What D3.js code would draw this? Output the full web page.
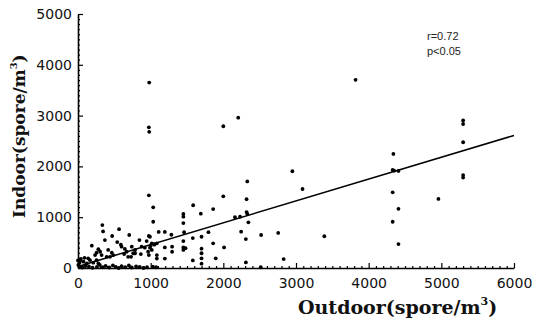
<!DOCTYPE html>
<html lang="en">
<head>
<meta charset="UTF-8">
<title>Indoor vs Outdoor</title>
<script src="https://cdn.jsdelivr.net/npm/d3@7/dist/d3.min.js"></script>
<style>
  body{margin:0;background:#fff}
  .tick text{font-family:"DejaVu Sans",sans-serif;font-size:14px;fill:#111}
  .lbl{font-family:"DejaVu Serif",serif;font-weight:bold;fill:#111}
</style>
</head>
<body>
<div class="chart"></div>
<script>
// data
let outdoor=[980,975,980,2205,2000,2330,975,2000,1035,2320,1035,1585,1860,1690,1450,1450,1450,2320,2330,2160,2230,2345,2245,2310,
  1110,1195,1285,1460,990,1795,1700,1580,1015,1045,1000,990,865,945,1195,1295,1295,1450,1450,1480,1450,1195,1085,1085,
  1700,1700,1700,1860,2010,1895,1580,1700,2310,1030,1075,
  3820,2950,3090,2520,2755,3390,2830,2515,
  4340,4330,4350,4410,4330,4410,4330,4410,4960,5300,5300,5300,5300,5300,
  335,345,565,470,705,370,190,540,590,600,845,975,875,920,785,785,1050,1085,280,305,255,325,235,415,465,395,440,485,
  645,670,635,690,740,760,730,965,1015,975,30,75,120,5,165,210,255,280,
  20,60,100,150,200,260,300,340,380,430,480,520,560,600,650,700,740,800,850,900,950,40,90,140,20,0]
let indoor=[3650,2770,2680,2960,2790,1705,1430,1410,1195,1355,910,1235,1160,1070,1065,1010,885,1100,1065,1000,1010,900,715,570,
  710,710,655,705,615,705,615,590,485,470,440,400,275,530,405,420,320,530,405,390,355,185,255,185,
  380,290,190,485,405,190,150,85,110,25,15,
  3705,1905,1555,650,690,625,175,15,
  2245,1930,1915,1910,1490,1165,910,470,1360,2905,2835,2475,1830,1780,
  845,720,765,630,650,550,440,510,460,420,550,630,420,400,355,290,460,485,370,320,300,255,255,355,300,220,220,255,
  375,320,275,220,420,290,220,320,355,255,145,125,90,60,155,105,155,90,
  20,10,40,30,5,20,60,15,40,10,50,20,0,35,15,50,10,30,20,0,15,180,200,190,100,150]
let xTicks=[0,1000,2000,3000,4000,5000,6000]
let yTicks=[0,1000,2000,3000,4000,5000]
let fit=[30,0.43]   // intercept, slope
let stats=['r=0.72','p<0.05']

let width=534,height=323
let xScale=d3.scaleLinear().domain([0,6000]).range([78,514])
let yScale=d3.scaleLinear().domain([0,5000]).range([268,14])
let svg=d3.select('.chart').append('svg').attr('width',width).attr('height',height)

// minor ticks
let minorX=d3.range(0,6001,100).filter(d=>d%1000)
let minorY=d3.range(0,5001,100).filter(d=>d%1000)
svg.append('g').attr('transform','translate(0,268)')
  .call(d3.axisBottom(xScale).tickValues(minorX).tickSize(-2).tickFormat(''))
  .call(g=>g.select('.domain').remove())
svg.append('g').attr('transform','translate(78,0)')
  .call(d3.axisLeft(yScale).tickValues(minorY).tickSize(-2).tickFormat(''))
  .call(g=>g.select('.domain').remove())

// axes
let xAxis=d3.axisBottom(xScale).tickValues(xTicks).tickSize(-5).tickSizeOuter(0).tickPadding(10).tickFormat(d3.format('d'))
let yAxis=d3.axisLeft(yScale).tickValues(yTicks).tickSize(-5).tickSizeOuter(0).tickPadding(6).tickFormat(d3.format('d'))
svg.append('g').attr('transform','translate(0,268)').call(xAxis)
svg.append('g').attr('transform','translate(78,0)').call(yAxis)
svg.selectAll('.domain').attr('stroke-width',1.6)
svg.selectAll('.tick line').attr('stroke-width',1.2)

// points
svg.append('g').selectAll('circle').data(outdoor).enter().append('circle')
  .attr('cx',d=>xScale(d)).attr('cy',(d,i)=>yScale(indoor[i])).attr('r',1.9).attr('fill','#000')

// regression line
svg.append('line')
  .attr('x1',xScale(0)).attr('y1',yScale(fit[0]))
  .attr('x2',xScale(6000)).attr('y2',yScale(fit[0]+fit[1]*6000))
  .attr('stroke','#000').attr('stroke-width',1.5)

// stats
svg.append('g').selectAll('text').data(stats).enter().append('text')
  .attr('x',427).attr('y',(d,i)=>40+i*15)
  .attr('font-family','"Liberation Sans",Arial,sans-serif').attr('font-size',11).attr('fill','#222')
  .text(d=>d)

// axis titles
let xt=svg.append('text').attr('class','lbl').attr('x',298).attr('y',314).attr('font-size',19)
xt.append('tspan').text('Outdoor(spore/m')
xt.append('tspan').attr('font-size',11).attr('dy',-9).text('3')
xt.append('tspan').attr('dy',9).text(')')

let yt=svg.append('text').attr('class','lbl').attr('transform','translate(25,218) rotate(-90)').attr('font-size',17)
yt.append('tspan').text('Indoor(spore/m')
yt.append('tspan').attr('font-size',10).attr('dy',-8).text('3')
yt.append('tspan').attr('dy',8).text(')')
</script>
</body>
</html>
